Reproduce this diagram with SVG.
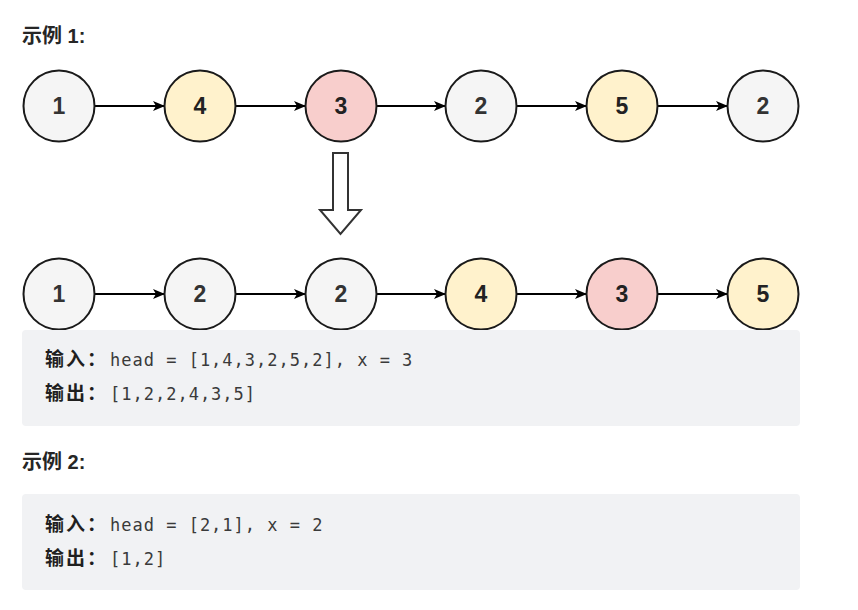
<svg xmlns="http://www.w3.org/2000/svg" width="858" height="610" viewBox="0 0 858 610">
<defs>
<marker id="ah" viewBox="0 0 12 12" refX="11" refY="6" markerWidth="12" markerHeight="12" markerUnits="userSpaceOnUse" orient="auto">
<path d="M0,1 L12,6 L0,11 L3,6 Z" fill="#000"/>
</marker>
<style>
.n{stroke:#1a1a1a;stroke-width:2}
.g{fill:#f5f5f5}.y{fill:#fff2cc}.r{fill:#f8cecc}
.t{font-family:"Liberation Sans",Arial,sans-serif;font-weight:bold;font-size:23px;text-anchor:middle;fill:#222}
.tg{fill:#333}
.e{stroke:#000;stroke-width:2;fill:none;marker-end:url(#ah)}
.h{font-family:"Liberation Sans","Noto Sans CJK SC",sans-serif;font-weight:bold;font-size:20px;fill:#262626}
.cj{font-family:"Noto Sans CJK SC",sans-serif;font-weight:bold;font-size:19px;fill:#1f1f1f;letter-spacing:2px}
.m{font-family:"DejaVu Sans Mono","Liberation Mono",monospace;font-size:17px;fill:#3a3a3a;letter-spacing:1px}
.box{fill:#f1f2f4}
</style>
</defs>
<rect width="858" height="610" fill="#fff"/>
<text class="h" x="22" y="43">示例 1:</text>
<g id="connectors">
<line class="e" x1="95" y1="106" x2="164" y2="106"/>
<line class="e" x1="236" y1="106" x2="305" y2="106"/>
<line class="e" x1="377" y1="106" x2="445" y2="106"/>
<line class="e" x1="517" y1="106" x2="586" y2="106"/>
<line class="e" x1="658" y1="106" x2="727" y2="106"/>
<line class="e" x1="95" y1="294" x2="164" y2="294"/>
<line class="e" x1="236" y1="294" x2="305" y2="294"/>
<line class="e" x1="377" y1="294" x2="445" y2="294"/>
<line class="e" x1="517" y1="294" x2="586" y2="294"/>
<line class="e" x1="658" y1="294" x2="727" y2="294"/>
</g>
<g id="a1"><circle class="n g" cx="59" cy="106" r="35.5"/><text class="t tg" x="59" y="114">1</text></g>
<g id="a2"><circle class="n y" cx="200" cy="106" r="35.5"/><text class="t" x="200" y="114">4</text></g>
<g id="a3"><circle class="n r" cx="341" cy="106" r="35.5"/><text class="t" x="341" y="114">3</text></g>
<g id="a4"><circle class="n g" cx="481" cy="106" r="35.5"/><text class="t tg" x="481" y="114">2</text></g>
<g id="a5"><circle class="n y" cx="622" cy="106" r="35.5"/><text class="t" x="622" y="114">5</text></g>
<g id="a6"><circle class="n g" cx="763" cy="106" r="35.5"/><text class="t tg" x="763" y="114">2</text></g>
<g id="bigarrow"><polygon points="333,153 348,153 348,210 361,210 340.5,234 320,210 333,210" fill="#fff" stroke="#333" stroke-width="2" stroke-linejoin="miter"/></g>
<g id="b1"><circle class="n g" cx="59" cy="294" r="35.5"/><text class="t tg" x="59" y="302">1</text></g>
<g id="b2"><circle class="n g" cx="200" cy="294" r="35.5"/><text class="t tg" x="200" y="302">2</text></g>
<g id="b3"><circle class="n g" cx="341" cy="294" r="35.5"/><text class="t tg" x="341" y="302">2</text></g>
<g id="b4"><circle class="n y" cx="481" cy="294" r="35.5"/><text class="t" x="481" y="302">4</text></g>
<g id="b5"><circle class="n r" cx="622" cy="294" r="35.5"/><text class="t" x="622" y="302">3</text></g>
<g id="b6"><circle class="n y" cx="763" cy="294" r="35.5"/><text class="t" x="763" y="302">5</text></g>
<g id="code1">
<rect class="box" x="22" y="330" width="778" height="96" rx="4"/>
<text class="cj" x="45" y="366">输入：</text><text class="m" x="110" y="366">head = [1,4,3,2,5,2], x = 3</text>
<text class="cj" x="45" y="400">输出：</text><text class="m" x="110" y="400">[1,2,2,4,3,5]</text>
</g>
<text class="h" x="22" y="469">示例 2:</text>
<g id="code2">
<rect class="box" x="22" y="494" width="778" height="96" rx="4"/>
<text class="cj" x="45" y="531">输入：</text><text class="m" x="110" y="531">head = [2,1], x = 2</text>
<text class="cj" x="45" y="565">输出：</text><text class="m" x="110" y="565">[1,2]</text>
</g>
</svg>
